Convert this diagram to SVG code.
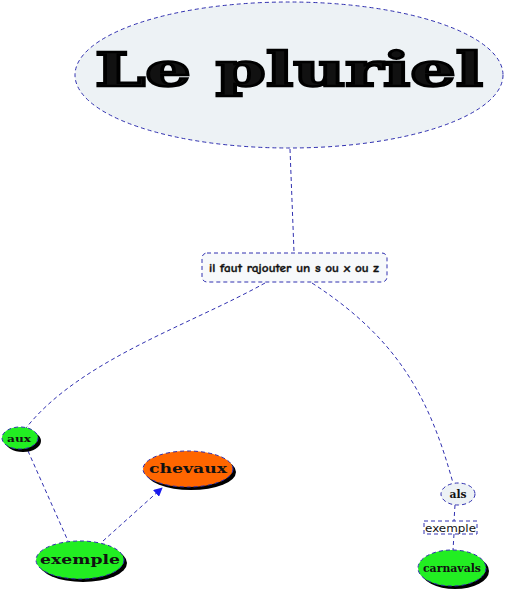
<svg xmlns="http://www.w3.org/2000/svg" width="505" height="592" viewBox="0 0 505 592">
<style>
.c{fill:none;stroke:#3030b0;stroke-width:1;stroke-dasharray:4 3}
.b{stroke:#3030b0;stroke-width:1;stroke-dasharray:4 3}
.sh{fill:#000}
.t{font-family:"DejaVu Serif",serif;font-weight:bold;fill:#111;text-anchor:middle}
</style>
<defs>
<marker id="ah" viewBox="0 0 10 10" refX="9" refY="5" markerWidth="9" markerHeight="9" orient="auto" markerUnits="userSpaceOnUse">
<path d="M0,0 L10,5 L0,10 z" fill="#1a1aee"/>
</marker>
</defs>
<rect width="505" height="592" fill="#fff"/>
<g id="connectors">
<path class="c" d="M290,149 L294,252"/>
<path class="c" d="M265,283 C190,325 80,360 26,428"/>
<path class="c" d="M312,283 C400,340 430,400 453,483"/>
<path class="c" d="M28,451 L68,541"/>
<path class="c" d="M103,541 L162,488" marker-end="url(#ah)"/>
<path class="c" d="M455,505 L454,521"/>
<path class="c" d="M454,534 L453,550"/>
</g>
<g id="n-title">
<ellipse class="b" cx="289" cy="75" rx="214" ry="73" fill="#edf2f5"/>
<text class="t" x="289" y="86" font-size="46" stroke="#000" stroke-width="2.5" fill="#000" textLength="388" lengthAdjust="spacingAndGlyphs">Le pluriel</text>
</g>
<g id="n-rule">
<rect class="b" x="202" y="253" width="185" height="29" rx="5" fill="#f7f9fb"/>
<text x="294" y="272" font-family="'Comic Neue','DejaVu Sans',sans-serif" font-size="11" font-weight="bold" fill="#111" stroke="#111" stroke-width="0.3" text-anchor="middle" textLength="170" lengthAdjust="spacingAndGlyphs">il faut rajouter un s ou x ou z</text>
</g>
<g id="n-aux">
<ellipse class="sh" cx="23" cy="441" rx="18" ry="11"/>
<ellipse class="b" cx="20" cy="438" rx="18" ry="11" fill="#22ee22"/>
<text class="t" x="19" y="442" font-size="10" textLength="24" lengthAdjust="spacingAndGlyphs">aux</text>
</g>
<g id="n-chevaux">
<ellipse class="sh" cx="191" cy="472" rx="45" ry="18"/>
<ellipse class="b" cx="188" cy="469" rx="45" ry="18" fill="#ff6600"/>
<text class="t" x="188" y="473" font-size="12" textLength="78" lengthAdjust="spacingAndGlyphs">chevaux</text>
</g>
<g id="n-exemple">
<ellipse class="sh" cx="83" cy="563" rx="44" ry="19"/>
<ellipse class="b" cx="80" cy="560" rx="44" ry="19" fill="#22ee22"/>
<text class="t" x="80" y="564" font-size="12" textLength="80" lengthAdjust="spacingAndGlyphs">exemple</text>
</g>
<g id="n-als">
<ellipse class="b" cx="458" cy="494" rx="17" ry="11" fill="#edf2f5"/>
<text class="t" x="458" y="498" font-size="11" textLength="17" lengthAdjust="spacingAndGlyphs">als</text>
</g>
<g id="n-exemple2">
<rect class="b" x="424" y="521" width="53" height="13" fill="#fff"/>
<text x="450.5" y="532" font-family="'DejaVu Sans',sans-serif" font-size="11" fill="#111" text-anchor="middle" textLength="51" lengthAdjust="spacingAndGlyphs">exemple</text>
</g>
<g id="n-carnavals">
<ellipse class="sh" cx="455" cy="571" rx="34" ry="18"/>
<ellipse class="b" cx="452" cy="568" rx="34" ry="18" fill="#22ee22"/>
<text class="t" x="452" y="572" font-size="11" textLength="58" lengthAdjust="spacingAndGlyphs">carnavals</text>
</g>
</svg>
